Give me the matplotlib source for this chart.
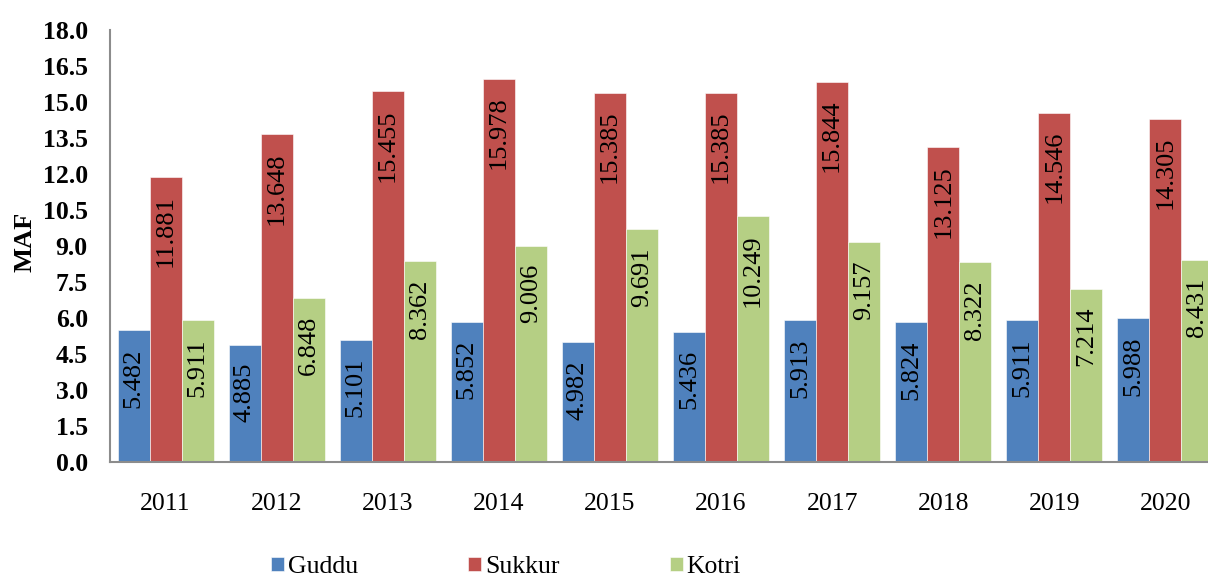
import matplotlib
matplotlib.use("Agg")
import matplotlib.pyplot as plt
import numpy as np

years = ["2011", "2012", "2013", "2014", "2015", "2016", "2017", "2018", "2019", "2020"]
guddu = [5.482, 4.885, 5.101, 5.852, 4.982, 5.436, 5.913, 5.824, 5.911, 5.988]
sukkur = [11.881, 13.648, 15.455, 15.978, 15.385, 15.385, 15.844, 13.125, 14.546, 14.305]
kotri = [5.911, 6.848, 8.362, 9.006, 9.691, 10.249, 9.157, 8.322, 7.214, 8.431]
series_names = ["Guddu", "Sukkur", "Kotri"]
yticks = [0.0, 1.5, 3.0, 4.5, 6.0, 7.5, 9.0, 10.5, 12.0, 13.5, 15.0, 16.5, 18.0]

colors = ["#4F81BD", "#C0504D", "#B5CF84"]

plt.rcParams['font.family'] = ['Liberation Serif', 'DejaVu Serif']

fig = plt.figure(figsize=(12.08, 5.79), dpi=100)
ax = fig.add_axes([110/1208, 1-462/579, 1111/1208, 432/579])

x = np.arange(len(years))
w = 0.288
for i, (vals, name, c) in enumerate(zip([guddu, sukkur, kotri], series_names, colors)):
    pos = x + (i - 1) * w
    ax.bar(pos, vals, width=w, color=c, label=name, edgecolor='white', linewidth=0.4, clip_on=False)
    for px, v in zip(pos, vals):
        ax.annotate(f"{v:.3f}", xy=(px, v), xytext=(0, -13), textcoords='offset points',
                    rotation=90, ha='center', va='top', fontsize=19, color='black',
                    annotation_clip=False)

ax.set_xlim(-0.5, len(years) - 0.5)
ax.set_ylim(0, 18)
ax.set_yticks(yticks)
ax.set_yticklabels([f"{t:.1f}" for t in yticks], fontsize=18.5, fontweight='bold')
ax.set_xticks(x)
ax.set_xticklabels(years, fontsize=18.5)
ax.tick_params(axis='y', length=0, pad=16)
ax.tick_params(axis='x', length=0, pad=22)
for s in ['top', 'right']:
    ax.spines[s].set_visible(False)
for s in ['left', 'bottom']:
    ax.spines[s].set_color('#8C8C8C')
    ax.spines[s].set_linewidth(1.5)

fig.text(25/1208, 1-242/579, "MAF", rotation=90, fontsize=19, fontweight='bold',
         ha='center', va='center')

fig.legend(loc='center', bbox_to_anchor=(506/1208, 1-567/579), ncol=3, frameon=False,
           fontsize=18.5, handlelength=0.5, handleheight=0.5, handletextpad=0.15,
           columnspacing=4.3)

fig.savefig("out.png", dpi=100)
